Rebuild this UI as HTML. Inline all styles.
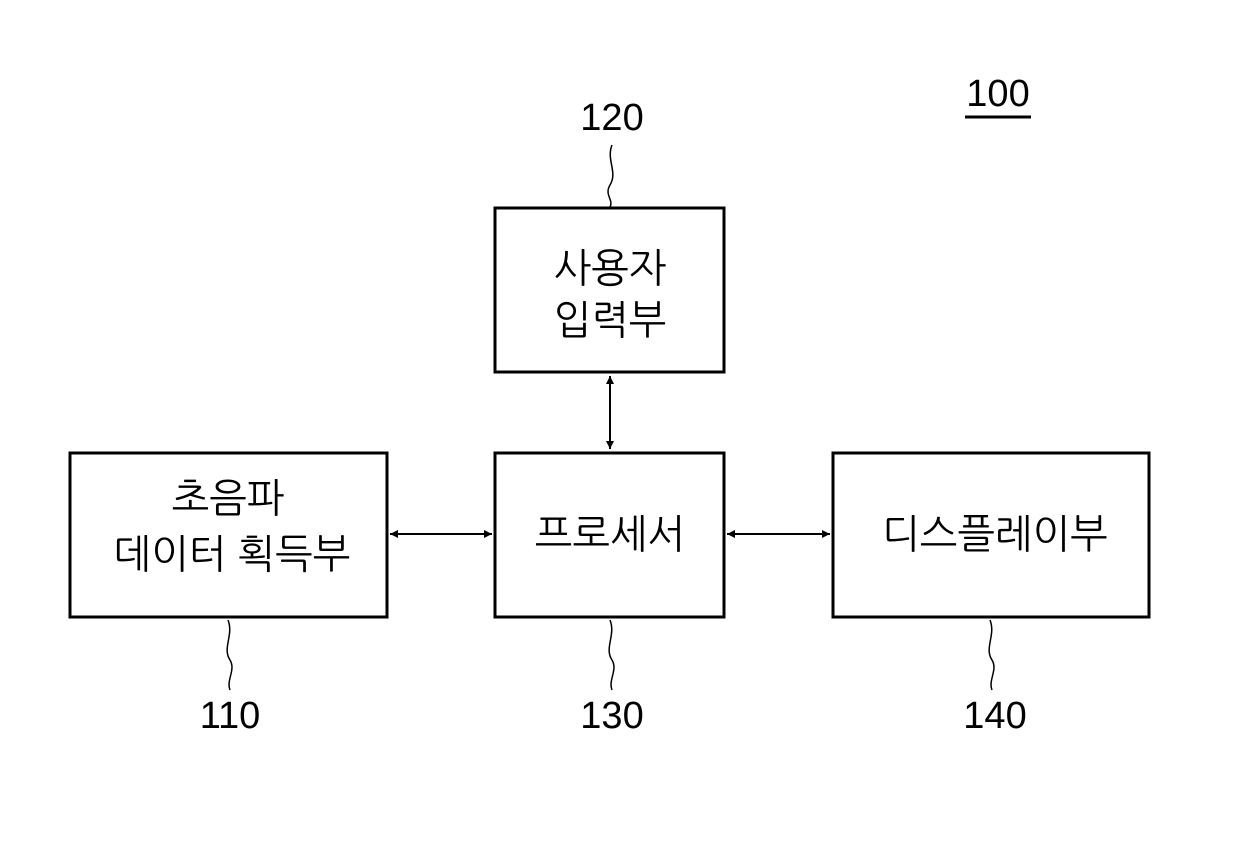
<!DOCTYPE html>
<html><head><meta charset="utf-8"><style>
html,body{margin:0;padding:0;background:#fff;}
svg{display:block;}
text{font-family:"Liberation Sans","NanumGothic","Noto Sans CJK KR",sans-serif;fill:#000;}
</style></head><body>
<svg width="1240" height="844" viewBox="0 0 1240 844" xmlns="http://www.w3.org/2000/svg">
<defs>
<marker id="a" viewBox="0 0 10 10" refX="10" refY="5" markerWidth="8" markerHeight="8" markerUnits="userSpaceOnUse" orient="auto-start-reverse"><path d="M0,0 L10,5 L0,10z" fill="#000"/></marker>
</defs>
<g fill="none" stroke="#000" stroke-width="3">
<rect x="495" y="208" width="229" height="164"/>
<rect x="70" y="453" width="317" height="164"/>
<rect x="495" y="453" width="229" height="164"/>
<rect x="833" y="453" width="316" height="164"/>
</g>
<g stroke="#000" stroke-width="2" fill="none">
<line x1="610" y1="376" x2="610" y2="449" marker-start="url(#a)" marker-end="url(#a)" stroke-width="2" style="marker-start:url(#a)"/>
<line x1="390" y1="534" x2="492" y2="534" marker-start="url(#a)" marker-end="url(#a)"/>
<line x1="727" y1="534" x2="830" y2="534" marker-start="url(#a)" marker-end="url(#a)"/>
<path d="M612,145 C606,160 618,172 610,185 C604,195 614,200 610,207" stroke-width="1.5"/>
<path d="M228,620 C234,635 222,648 230,660 C236,670 226,680 230,690" stroke-width="1.5"/>
<path d="M610,620 C616,635 604,648 612,660 C618,670 608,680 612,690" stroke-width="1.5"/>
<path d="M990,620 C996,635 984,648 992,660 C998,670 988,680 992,690" stroke-width="1.5"/>
<line x1="965" y1="117" x2="1031" y2="117" stroke-width="3"/>
</g>
<g font-size="38" text-anchor="middle">
<text x="998" y="106">100</text>
<text x="612" y="130">120</text>
<text x="230" y="728">110</text>
<text x="612" y="728">130</text>
<text x="995" y="728">140</text>
</g>
<g font-size="40" text-anchor="middle">
<text x="610" y="282">사용자</text>
<text x="610" y="334">입력부</text>
<text x="228" y="512">초음파</text>
<text x="232" y="568">데이터 획득부</text>
<text x="610" y="548">프로세서</text>
<text x="995" y="548">디스플레이부</text>
</g>
</svg>
</body></html>
